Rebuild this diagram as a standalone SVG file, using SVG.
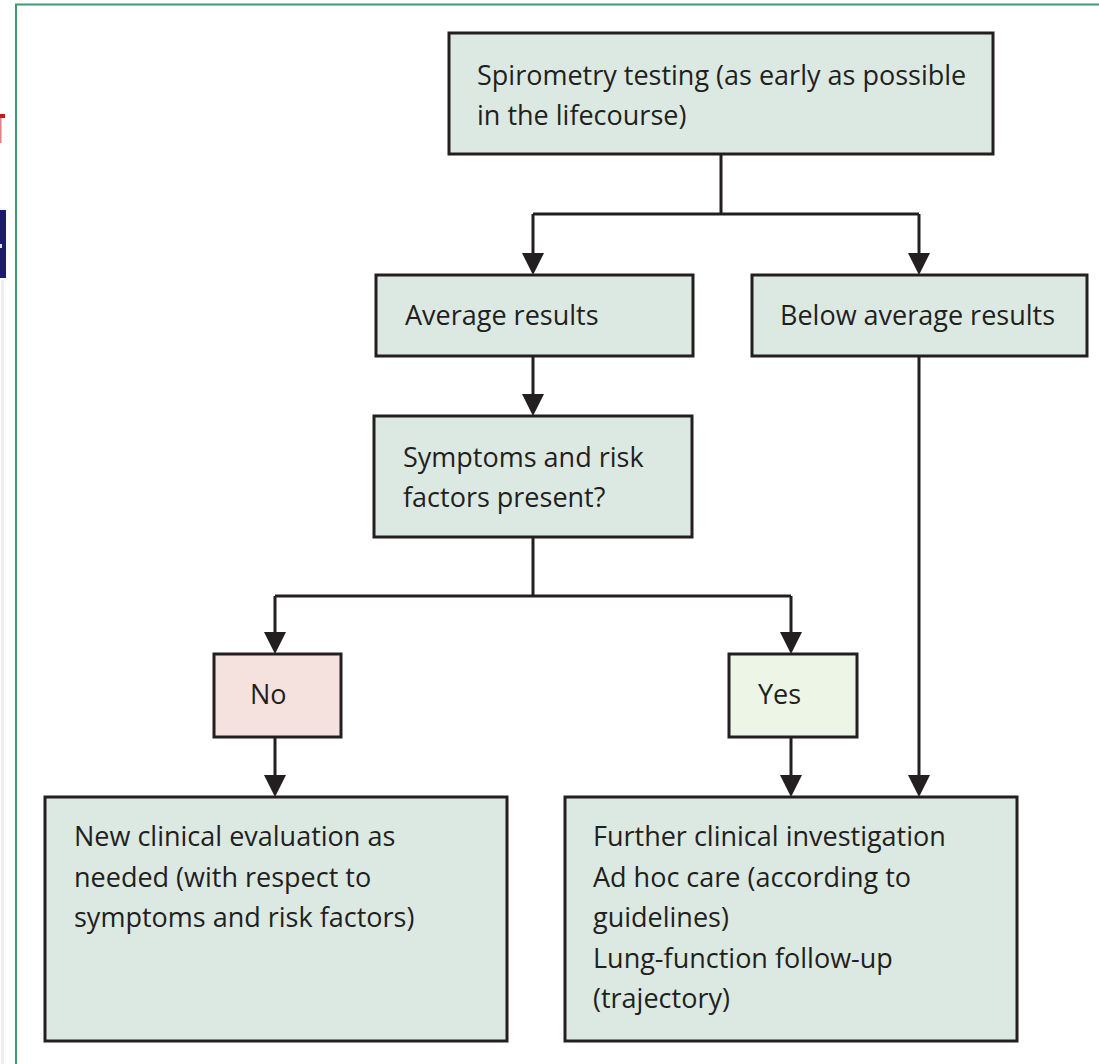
<svg xmlns="http://www.w3.org/2000/svg" width="1099" height="1064" viewBox="0 0 1099 1064">
<style>
.box{stroke:#231f20;stroke-width:3}
.g{fill:#dce9e2}
.no{fill:#f5e2df}
.yes{fill:#edf5e6}
.t{font-family:"Open Sans","Liberation Sans",sans-serif;font-size:27px;fill:#231f20}
.c{fill:none;stroke:#231f20;stroke-width:3}
</style>
<defs>
<marker id="ah" markerUnits="userSpaceOnUse" markerWidth="22" markerHeight="22" refX="0" refY="11" orient="auto" viewBox="0 0 22 22">
<path d="M0,0 L22,11 L0,22 Z" fill="#231f20"/>
</marker>
</defs>
<rect x="0" y="0" width="1099" height="1064" fill="#ffffff"/>
<g id="page-edge">
<rect x="1" y="280" width="3" height="784" fill="#efefef"/>
<rect x="0" y="114" width="5" height="4" fill="#c8161d"/>
<rect x="0" y="118" width="1.5" height="25" fill="#e08080"/>
<rect x="0" y="208" width="6" height="2" fill="#f4f6ee"/>
<rect x="0" y="210" width="6" height="68" fill="#1b1c6b"/>
<rect x="0" y="244" width="2" height="4" fill="#dfe6f5"/>
<path d="M16,1100 V4.5 H1110" fill="none" stroke="#3f9a72" stroke-width="2"/>
</g>
<g id="connectors">
<path class="c" d="M721,154 V214 M533,214 H919"/>
<path class="c" d="M533,214 V253" marker-end="url(#ah)"/>
<path class="c" d="M919,214 V253" marker-end="url(#ah)"/>
<path class="c" d="M533,356 V394" marker-end="url(#ah)"/>
<path class="c" d="M533,537 V596 M275,596 H791"/>
<path class="c" d="M275,596 V632" marker-end="url(#ah)"/>
<path class="c" d="M791,596 V632" marker-end="url(#ah)"/>
<path class="c" d="M275,737 V775" marker-end="url(#ah)"/>
<path class="c" d="M791,737 V775" marker-end="url(#ah)"/>
<path class="c" d="M919,356 V775" marker-end="url(#ah)"/>
</g>
<g id="spirometry">
<rect class="box g" x="449" y="33" width="544" height="121"/>
<text class="t" x="477" y="85">Spirometry testing (as early as possible</text>
<text class="t" x="477" y="125">in the lifecourse)</text>
</g>
<g id="average">
<rect class="box g" x="376" y="275" width="317" height="81"/>
<text class="t" x="405" y="325">Average results</text>
</g>
<g id="below-average">
<rect class="box g" x="752" y="275" width="335" height="81"/>
<text class="t" x="780" y="325">Below average results</text>
</g>
<g id="symptoms">
<rect class="box g" x="374" y="416" width="318" height="121"/>
<text class="t" x="403" y="467">Symptoms and risk</text>
<text class="t" x="403" y="507">factors present?</text>
</g>
<g id="no">
<rect class="box no" x="214" y="654" width="127" height="83"/>
<text class="t" x="250" y="704">No</text>
</g>
<g id="yes">
<rect class="box yes" x="729" y="654" width="128" height="83"/>
<text class="t" x="758" y="704">Yes</text>
</g>
<g id="new-evaluation">
<rect class="box g" x="45" y="797" width="462" height="244"/>
<text class="t" x="74" y="846">New clinical evaluation as</text>
<text class="t" x="74" y="887">needed (with respect to</text>
<text class="t" x="74" y="927">symptoms and risk factors)</text>
</g>
<g id="further-investigation">
<rect class="box g" x="565" y="797" width="452" height="244"/>
<text class="t" x="593" y="846">Further clinical investigation</text>
<text class="t" x="593" y="887">Ad hoc care (according to</text>
<text class="t" x="593" y="927">guidelines)</text>
<text class="t" x="593" y="968">Lung-function follow-up</text>
<text class="t" x="593" y="1008">(trajectory)</text>
</g>
</svg>
